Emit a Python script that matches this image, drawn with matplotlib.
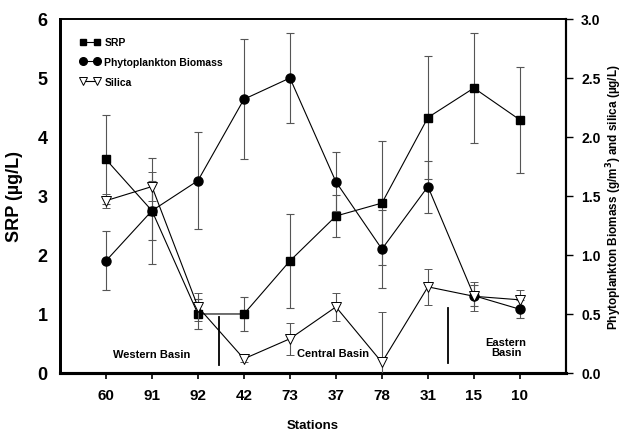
import numpy as np
import matplotlib
matplotlib.use("Agg")
from matplotlib import pyplot as plt
from matplotlib.lines import Line2D

plt.rcParams['font.family'] = ['Liberation Sans', 'DejaVu Sans']
plt.rcParams['font.weight'] = 'bold'

stations = ["60", "91", "92", "42", "73", "37", "78", "31", "15", "10"]

# SRP on left axis (ug/L)
srp = [3.62, 2.75, 1.00, 1.00, 1.90, 2.66, 2.88, 4.33, 4.83, 4.29]
srp_err = [0.75, 0.50, 0.25, 0.28, 0.80, 0.35, 1.05, 1.04, 0.93, 0.90]

# phytoplankton biomass and silica on right axis
phyto = [0.95, 1.375, 1.63, 2.32, 2.50, 1.62, 1.05, 1.58, 0.655, 0.54]
phyto_err = [0.25, 0.45, 0.41, 0.51, 0.38, 0.25, 0.33, 0.22, 0.09, 0.075]
silica = [1.46, 1.58, 0.56, 0.12, 0.29, 0.56, 0.09, 0.73, 0.65, 0.62]
silica_err = [0.06, 0.12, 0.12, 0.03, 0.135, 0.12, 0.43, 0.15, 0.125, 0.085]

x = np.arange(len(stations))

fig = plt.figure(figsize=(6.26, 4.31), dpi=100)
ax = fig.add_axes([0.0958, 0.1323, 0.8082, 0.8213])
ax2 = ax.twinx()

ebkw = dict(ecolor='#555555', elinewidth=0.8, capsize=3, capthick=0.8, color='black', lw=0.8)
ax.errorbar(x, srp, yerr=srp_err, marker='s', ms=6, mfc='black', mec='black', zorder=3, **ebkw)
ax2.errorbar(x, phyto, yerr=phyto_err, marker='o', ms=6.5, mfc='black', mec='black', zorder=3, **ebkw)
ax2.errorbar(x, silica, yerr=silica_err, marker='v', ms=7, mfc='white', mec='black', mew=0.7, zorder=3, **ebkw)

ax.set_xlim(-1, 10)
ax.set_ylim(0, 6)
ax2.set_ylim(0, 3)
ax.set_xticks(x)
ax.set_xticklabels(stations, fontsize=11, fontweight='bold')
ax.tick_params(axis='x', pad=7, length=4, width=1.2)
ax.set_yticks(range(7))
ax.set_yticklabels([str(i) for i in range(7)], fontsize=13, fontweight='bold')
ax.tick_params(axis='y', length=0, pad=9)
ax2.set_yticks(np.arange(0, 3.01, 0.5))
ax2.set_yticklabels([f"{v:.1f}" for v in np.arange(0, 3.01, 0.5)], fontsize=10, fontweight='bold')
ax2.tick_params(axis='y', length=5, width=1.0, pad=6)

ax.set_ylabel("SRP (\u00b5g/L)", fontsize=13, fontweight='bold', labelpad=10)
ax2.set_ylabel("Phytoplankton Biomass (g/m$^\\mathbf{3}$) and silica (\u00b5g/L)",
               fontsize=8.5, fontweight='bold', labelpad=3)
ax.set_xlabel("Stations", fontsize=9.5, fontweight='bold', labelpad=12)

for a in (ax, ax2):
    a.spines['bottom'].set_linewidth(2.2)
    a.spines['left'].set_linewidth(2.0)
    a.spines['top'].set_linewidth(1.2)
    a.spines['right'].set_linewidth(1.5)

# basin dividers and labels
ax.plot([2.46, 2.46], [0.14, 0.95], color='black', lw=1.3)
ax.plot([7.43, 7.43], [0.17, 1.1], color='black', lw=1.3)
ax.text(1.0, 0.32, "Western Basin", ha='center', va='center', fontsize=8, fontweight='bold')
ax.text(4.93, 0.34, "Central Basin", ha='center', va='center', fontsize=8, fontweight='bold')
ax.text(8.7, 0.44, "Eastern\nBasin", ha='center', va='center', fontsize=8, fontweight='bold',
        linespacing=1.0)

# legend
handles = [
    Line2D([], [], color='black', lw=0.8, marker='s', ms=5, mfc='black'),
    Line2D([], [], color='black', lw=0.8, marker='o', ms=5.5, mfc='black'),
    Line2D([], [], color='black', lw=0.8, marker='v', ms=6, mfc='white', mew=0.7),
]
leg = ax.legend(handles, ["SRP", "Phytoplankton Biomass", "Silica"], loc='upper left',
                bbox_to_anchor=(0.02, 0.975), frameon=False, numpoints=2,
                handlelength=2.0, handletextpad=0.4, labelspacing=0.95,
                prop={'size': 7.5, 'weight': 'bold'})

fig.savefig("out.png", dpi=100)
